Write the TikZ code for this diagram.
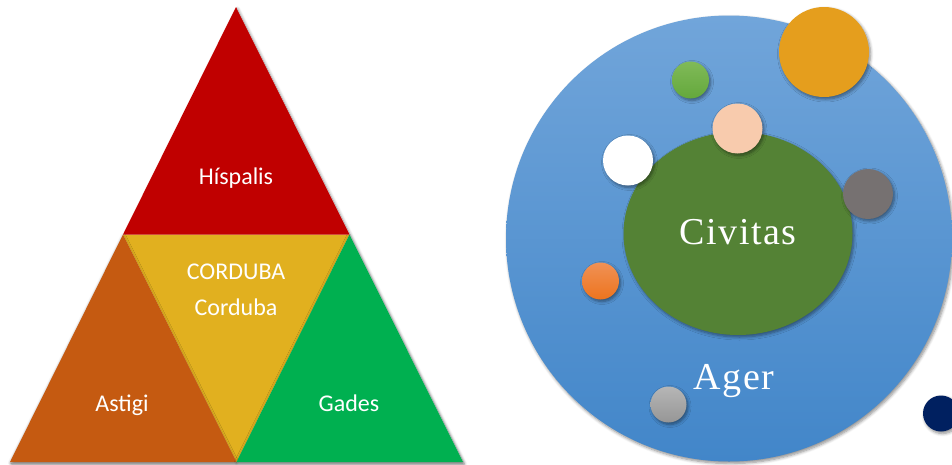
\documentclass[tikz,border=0pt]{standalone}
\usepackage{fontspec}
\newfontfamily\labfont{Carlito}
\newfontfamily\romfont[LetterSpace=4]{Liberation Serif}
\usetikzlibrary{shapes.geometric,shadows.blur}
\definecolor{tred}{RGB}{192,0,0}
\definecolor{tyel}{RGB}{225,176,31}
\definecolor{torg}{RGB}{197,90,17}
\definecolor{tgrn}{RGB}{0,176,80}
\definecolor{blueTop}{RGB}{113,165,218}
\definecolor{blueBot}{RGB}{66,134,201}
\definecolor{civgreen}{RGB}{84,130,53}
\definecolor{orgBig}{RGB}{229,158,29}
\definecolor{grnTop}{RGB}{128,186,88}
\definecolor{grnBot}{RGB}{100,168,60}
\definecolor{peach}{RGB}{248,203,173}
\definecolor{grayDark}{RGB}{118,113,113}
\definecolor{orgTop}{RGB}{240,145,85}
\definecolor{orgBot}{RGB}{237,116,30}
\definecolor{gryTop}{RGB}{182,182,182}
\definecolor{gryBot}{RGB}{150,150,150}
\definecolor{navy}{RGB}{0,32,96}
\tikzset{
  softshadow/.style={blur shadow={shadow xshift=1.5pt,shadow yshift=-2pt,shadow blur steps=6,shadow blur radius=3pt,shadow opacity=45}},
  tri/.style={blur shadow={shadow xshift=0pt,shadow yshift=-1pt,shadow blur steps=6,shadow blur radius=2.5pt,shadow opacity=30}},
  lab/.style={text=white,font=\labfont\fontsize{24}{28}\selectfont,anchor=base,inner sep=0pt},
  big/.style={text=white,font=\romfont\fontsize{38}{44}\selectfont,anchor=base,inner sep=0pt},
  bubble/.style={circle,minimum size=#1,inner sep=0pt,draw=none,softshadow}
}
\begin{document}
\begin{tikzpicture}[x=1pt,y=-1pt]
\useasboundingbox (0,0) rectangle (952,464);
\clip (0,0) rectangle (952,464);
% triangle
\coordinate (top) at (236,7);
\coordinate (bl) at (10,462);
\coordinate (br) at (463,462);
\coordinate (ml) at (123,234.5);
\coordinate (mr) at (349.5,234.5);
\coordinate (mb) at (236.5,462);
\fill[white,softshadow] (top) -- (br) -- (bl) -- cycle;
\fill[tyel] (ml) -- (mr) -- (mb) -- cycle;
\fill[tred] (top) -- (mr) -- (ml) -- cycle;
\fill[torg,tri] (ml) -- (mb) -- (bl) -- cycle;
\fill[tgrn,tri] (mr) -- (br) -- (mb) -- cycle;
\node[lab] (hisp) at (236,184) {Híspalis};
\node[lab] (cordU) at (236,279) {CORDUBA};
\node[lab] (cord) at (236,315) {Corduba};
\node[lab] (astigi) at (122,411) {Astigi};
\node[lab] (gades) at (349,411) {Gades};
% circles
\node[circle,minimum size=446pt,inner sep=0pt,top color=blueTop,bottom color=blueBot,softshadow] (agerc) at (729,238.5) {};
\node[ellipse,minimum width=229pt,minimum height=203pt,inner sep=0pt,fill=civgreen,softshadow] (civ) at (738,233.5) {};
\node[big] (civt) at (738,244) {Civitas};
\node[big] (agert) at (734,389) {Ager};
\node[bubble=90pt,fill=orgBig] (b1) at (824,52) {};
\node[bubble=37pt,top color=grnTop,bottom color=grnBot] (b2) at (690.5,80) {};
\node[bubble=50pt,fill=peach] (b3) at (737.5,128.5) {};
\node[bubble=50pt,fill=white] (b4) at (628,160.5) {};
\node[bubble=50pt,fill=grayDark] (b5) at (868,194) {};
\node[bubble=37pt,top color=orgTop,bottom color=orgBot] (b6) at (600.5,281) {};
\node[bubble=36pt,top color=gryTop,bottom color=gryBot] (b7) at (668.5,404.5) {};
\node[bubble=36pt,fill=navy] (b8) at (941,413.5) {};
\end{tikzpicture}
\end{document}
